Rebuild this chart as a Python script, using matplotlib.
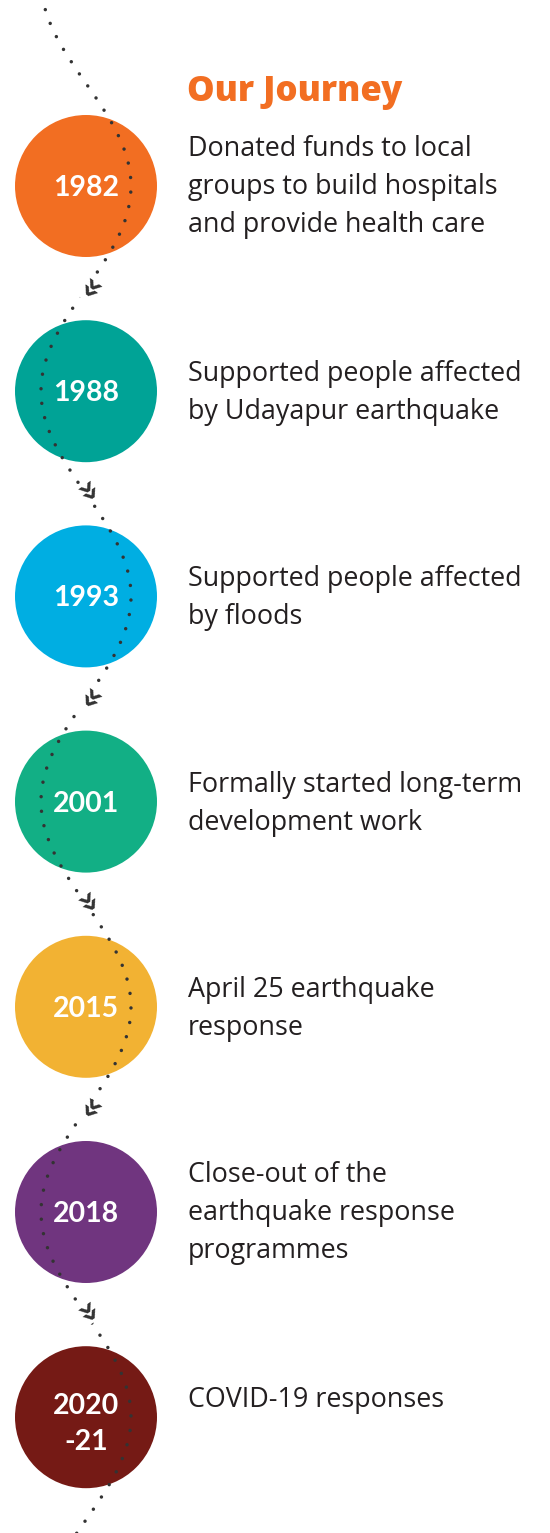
import numpy as np
import matplotlib
matplotlib.use("Agg")
import matplotlib.pyplot as plt
from matplotlib.patches import Circle, PathPatch
from matplotlib.path import Path

# timeline data
years = ["1982", "1988", "1993", "2001", "2015", "2018", "2020\n-21"]
colors = ["#F26E22", "#00A396", "#00AEE2", "#12AF85", "#F2B233", "#70357F", "#751A15"]
descriptions = [
    ["Donated funds to local", "groups to build hospitals", "and provide health care"],
    ["Supported people affected", "by Udayapur earthquake"],
    ["Supported people affected", "by floods"],
    ["Formally started long-term", "development work"],
    ["April 25 earthquake", "response"],
    ["Close-out of the", "earthquake response", "programmes"],
    ["COVID-19 responses"],
]
title = "Our Journey"

# layout (pixels)
W, H = 550, 1533
cx, r = 86, 71
y0, step = 186, 205.2
amp = 45
text_x = 188
line_h = 38
dark = "#333333"

fig = plt.figure(figsize=(W / 100, H / 100), dpi=100)
ax = fig.add_axes([0, 0, 1, 1])
ax.set_xlim(0, W)
ax.set_ylim(H, 0)
ax.axis("off")

centers = [y0 + i * step for i in range(len(years))]

# circles
for cy, col in zip(centers, colors):
    ax.add_patch(Circle((cx, cy), r, facecolor=col, edgecolor="none", zorder=1))

# wavy dotted path: peaks alternate right/left at circle centres
peaks_y = [y0 - step] + centers + [centers[-1] + step]
peaks_x = [cx - amp if i % 2 == 0 else cx + amp for i in range(len(peaks_y))]
k = 0.37 * step
verts, codes = [(peaks_x[0], peaks_y[0])], [Path.MOVETO]
segs = []
for i in range(len(peaks_y) - 1):
    p0 = np.array([peaks_x[i], peaks_y[i]])
    p1 = np.array([peaks_x[i], peaks_y[i] + k])
    p2 = np.array([peaks_x[i + 1], peaks_y[i + 1] - k])
    p3 = np.array([peaks_x[i + 1], peaks_y[i + 1]])
    verts += [tuple(p1), tuple(p2), tuple(p3)]
    codes += [Path.CURVE4] * 3
    segs.append((p0, p1, p2, p3))
path = Path(verts, codes)
ax.add_patch(PathPatch(path, facecolor="none", edgecolor=dark, lw=2.5,
                       linestyle=(0, (0.01, 4.2)), capstyle="round", zorder=2))

# chevrons between circles
for p0, p1, p2, p3 in segs[1:-1]:
    mid = 0.125 * p0 + 0.375 * p1 + 0.375 * p2 + 0.125 * p3
    d = 0.75 * (p1 - p0) + 1.5 * (p2 - p1) + 0.75 * (p3 - p2)
    ang = np.degrees(np.arctan2(-d[1], d[0]))
    ax.text(mid[0], mid[1], "»", rotation=ang, rotation_mode="anchor",
            ha="center", va="center", fontsize=24, fontweight="bold",
            color=dark, family="DejaVu Sans", zorder=4,
            bbox=dict(boxstyle="square,pad=0.0", fc="white", ec="none"))

# year labels
for cy, yr in zip(centers, years):
    ax.text(cx, cy + (2 if "\n" not in yr else 7), yr, ha="center", va="center",
            fontsize=20.5, fontweight="bold", color="white", family="Lato",
            linespacing=1.5, zorder=3)

# title
ax.text(text_x - 1, 92, title, ha="left", va="center", fontsize=25,
        fontweight="heavy", color="#F26E22", family="Open Sans")

# descriptions
for cy, lines in zip(centers, descriptions):
    n = len(lines)
    base = cy - 10 - max(n - 2, 0) * 20
    for j, line in enumerate(lines):
        ax.text(text_x, base + j * line_h, line, ha="left", va="baseline",
                fontsize=19.4, color="#231F20", family="Open Sans")

fig.savefig("out.png", dpi=100)
